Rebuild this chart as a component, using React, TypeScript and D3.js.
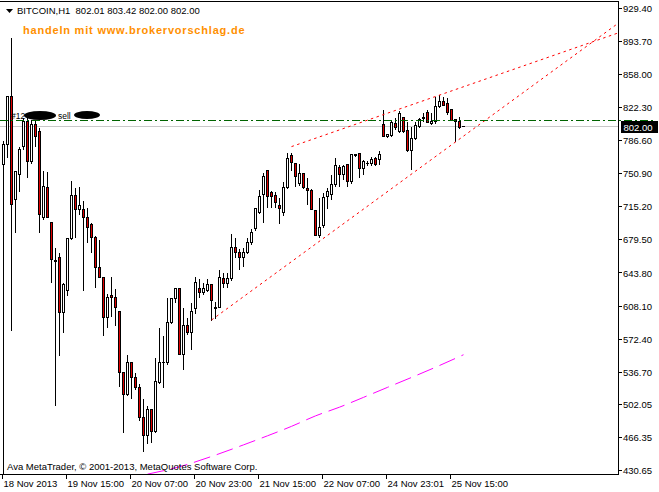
import React, { useEffect, useRef } from "react";
import * as d3 from "d3";

// Hourly BITCOIN candles (index 0 = 18 Nov 2013 23:00)
const opens = [
  760.4, 782.0, 833.8, 722.6, 749.6, 779.8, 806.8, 763.6, 803.6, 796.0,
  704.2, 735.6, 697.8, 657.5, 660.0, 600.6, 625.4, 680.5, 726.9, 711.8,
  711.8, 704.2, 695.6, 681.6, 650.2, 639.4, 596.2, 620.0, 617.8, 602.7,
  535.8, 513.1, 547.6, 531.4, 520.6, 488.2, 468.8, 496.9, 473.1, 526.0,
  546.6, 546.6, 590.8, 615.7, 626.5, 556.3, 587.6, 579.0, 605.9, 626.5,
  622.2, 625.4, 630.8, 606.5, 607.0, 637.3, 631.9, 637.3, 671.8, 666.4,
  661.0, 666.4, 676.2, 691.3, 709.6, 728.0, 753.9, 730.2, 726.9, 716.1,
  708.6, 735.6, 770.1, 761.5, 739.9, 750.7, 734.5, 732.3, 710.7, 683.7,
  694.5, 725.8, 728.0, 738.8, 757.2, 749.6, 760.4, 742.0, 771.2, 772.3,
  756.1, 761.5, 761.5, 766.9, 765.8, 803.6, 790.6, 791.7, 804.7, 796.0,
  811.2, 797.1, 775.5, 788.5, 801.4, 811.2, 816.6, 804.7, 806.8, 823.0,
  828.4, 826.3, 819.8, 809.0, 806.8, 802.01,
];
const highs = [
  786.3, 834.5, 897.6, 754.0, 779.8, 811.2, 811.2, 809.0, 809.0, 800.4,
  753.9, 752.8, 699.0, 670.8, 665.4, 633.0, 682.6, 743.1, 735.6, 736.6,
  721.5, 714.0, 697.8, 683.7, 679.4, 640.5, 621.1, 640.5, 626.5, 603.8,
  537.9, 556.3, 548.7, 536.8, 524.9, 508.8, 501.2, 498.0, 553.0, 584.4,
  576.8, 616.8, 616.8, 627.6, 627.6, 607.0, 595.2, 612.4, 640.5, 637.3,
  634.0, 637.3, 632.0, 613.5, 647.0, 644.8, 644.8, 685.9, 682.6, 669.7,
  671.8, 682.6, 691.3, 714.0, 733.4, 751.8, 755.0, 732.3, 731.2, 724.8,
  742.0, 773.4, 773.4, 762.6, 761.5, 751.8, 746.4, 734.5, 711.8, 724.8,
  730.2, 735.6, 749.6, 768.0, 760.4, 760.4, 761.5, 772.0, 772.3, 773.4,
  765.8, 764.7, 769.1, 769.1, 775.5, 819.8, 793.9, 807.9, 811.2, 818.7,
  812.0, 806.8, 801.4, 806.8, 811.2, 816.6, 819.8, 816.6, 833.8, 836.0,
  833.8, 832.8, 821.0, 810.1, 812.2, 803.42,
];
const lows = [
  400.0, 768.0, 582.2, 687.0, 731.2, 776.6, 746.4, 762.0, 779.8, 687.0,
  702.0, 703.2, 634.0, 501.2, 555.2, 580.0, 620.0, 679.4, 681.6, 706.4,
  625.4, 677.2, 665.4, 628.6, 639.4, 576.8, 585.4, 597.3, 587.6, 521.7,
  472.0, 512.0, 508.8, 518.5, 485.0, 451.5, 460.2, 461.2, 472.0, 525.0,
  520.6, 545.5, 589.7, 611.4, 556.3, 540.1, 577.9, 561.7, 599.5, 616.8,
  621.0, 624.0, 593.0, 594.1, 606.0, 628.6, 628.6, 636.0, 660.0, 647.0,
  651.3, 665.0, 675.0, 690.0, 708.0, 698.8, 714.0, 715.0, 715.0, 696.7,
  705.3, 734.5, 753.9, 736.6, 737.7, 734.5, 717.2, 711.8, 683.7, 681.6,
  692.4, 712.9, 722.6, 737.5, 736.6, 744.2, 736.6, 739.9, 769.1, 746.4,
  749.6, 759.3, 759.3, 759.3, 760.4, 790.6, 789.6, 790.6, 798.2, 795.0,
  794.9, 774.4, 755.0, 787.4, 800.5, 806.8, 805.7, 803.6, 805.5, 822.0,
  824.1, 814.4, 807.9, 785.2, 799.3, 802.0,
];
const closes = [
  782.0, 833.8, 717.2, 752.8, 776.6, 806.8, 763.6, 803.6, 790.6, 706.4,
  736.6, 703.2, 657.8, 656.5, 600.6, 630.8, 680.5, 726.9, 711.8, 716.1,
  704.2, 693.4, 682.6, 649.2, 639.4, 596.2, 616.8, 616.8, 607.0, 535.8,
  513.1, 546.6, 531.4, 520.6, 488.2, 468.8, 496.9, 473.1, 527.1, 546.6,
  547.6, 590.8, 615.7, 626.5, 556.3, 587.6, 579.0, 602.7, 633.0, 622.2,
  626.5, 630.8, 614.6, 605.9, 638.4, 631.9, 637.3, 671.8, 666.4, 661.0,
  666.4, 676.2, 688.0, 712.9, 725.8, 747.4, 725.8, 725.8, 719.4, 712.9,
  735.6, 766.9, 762.6, 747.4, 750.7, 735.6, 732.3, 711.8, 683.7, 693.4,
  724.8, 731.2, 738.8, 759.3, 749.6, 758.2, 742.0, 771.2, 770.1, 756.1,
  763.6, 761.8, 765.8, 760.4, 771.2, 790.6, 792.8, 805.7, 800.4, 815.5,
  796.0, 775.5, 788.5, 802.5, 809.0, 810.1, 805.7, 806.8, 823.0, 828.4,
  824.1, 816.6, 807.9, 806.8, 800.4, 802.0,
];

const priceTicks = [929.4, 893.7, 858.0, 822.3, 786.6, 750.9, 715.2, 679.5, 643.8, 608.1, 572.4, 536.7, 502.05, 466.35, 430.65];
const priceMin = 430.65;
const priceMax = 929.4;

const timeTickIdx = [0, 16, 32, 48, 64, 80, 96, 112];
const timeLabels = ["18 Nov 2013", "19 Nov 15:00", "20 Nov 07:00", "20 Nov 23:00", "21 Nov 15:00", "22 Nov 07:00", "24 Nov 23:01", "25 Nov 15:00"];

// moving average (magenta dashed)
const maIdx = [36, 44, 52, 60, 66, 72, 78, 84, 90, 96, 102, 108, 115];
const maVal = [426.6, 434.6, 445.7, 458.2, 468.0, 478.2, 489.5, 498.9, 509.5, 520.3, 531.0, 542.0, 555.5];

// trend lines (red dotted): two anchors each, extended to the right edge
const lowerTrendIdx = [52, 113];
const lowerTrendVal = [593.0, 785.2];
const upperTrendIdx = [72, 109];
const upperTrendVal = [780.2, 835.8];

const orderPrice = 807.9;
const lastPrice = 802.0;
const headerText = "BITCOIN,H1  802.01 803.42 802.00 802.00";
const promoText = "handeln mit www.brokervorschlag.de";
const copyText = "Ava MetaTrader, \u00A9 2001-2013, MetaQuotes Software Corp.";

export default function App() {
  const ref = useRef<SVGSVGElement>(null);

  useEffect(() => {
    document.body.style.margin = "0";
    const W = 659;
    const H = 492;
    const axisX = 618.5;
    const axisY = 474.5;
    const font = "'Liberation Sans', Arial, sans-serif";

    const svg = d3.select(ref.current);
    svg.selectAll("*").remove();
    svg.attr("width", W).attr("height", H);
    svg.append("rect").attr("width", W).attr("height", H).attr("fill", "#fff");

    const x = d3.scaleLinear().domain([0, 1]).range([3.5, 7.5]);
    const y = d3.scaleLinear().domain([priceMin, priceMax]).range([470.4, 8.4]);
    const snap = (v: number) => Math.round(v - 0.5) + 0.5;
    const maxIdx = x.invert(axisX);

    const defs = svg.append("defs");
    defs.append("clipPath").attr("id", "plotClip")
      .append("rect").attr("x", 0).attr("y", 2).attr("width", 618).attr("height", 472);

    const plot = svg.append("g").attr("clip-path", "url(#plotClip)");

    // price line (last price)
    plot.append("line")
      .attr("x1", 0).attr("x2", 621).attr("y1", snap(y(lastPrice))).attr("y2", snap(y(lastPrice)))
      .attr("stroke", "#c8c8c8").attr("shape-rendering", "crispEdges");

    // candles
    const candles = plot.append("g").attr("shape-rendering", "crispEdges");
    opens.forEach((o, i) => {
      const c = closes[i];
      const cx = x(i);
      candles.append("line")
        .attr("x1", cx).attr("x2", cx)
        .attr("y1", snap(y(highs[i]))).attr("y2", snap(y(lows[i])) + 0.5)
        .attr("stroke", "#000");
      const top = snap(y(Math.max(o, c)));
      const bot = snap(y(Math.min(o, c)));
      if (bot - top < 1) {
        candles.append("line")
          .attr("x1", cx - 1.5).attr("x2", cx + 1.5).attr("y1", top).attr("y2", top)
          .attr("stroke", "#000");
      } else {
        candles.append("rect")
          .attr("x", cx - 1).attr("width", 2)
          .attr("y", top).attr("height", bot - top)
          .attr("fill", c >= o ? "#ffffff" : "#e00000")
          .attr("stroke", "#000");
      }
    });

    // trend lines
    const trend = (idx: number[], val: number[]) => {
      const slope = (val[1] - val[0]) / (idx[1] - idx[0]);
      const endVal = val[0] + slope * (maxIdx - idx[0]);
      const pts: [number, number][] = [[idx[0], val[0]], [maxIdx, endVal]];
      plot.append("path")
        .attr("d", d3.line<[number, number]>().x(d => x(d[0])).y(d => y(d[1]))(pts) as string)
        .attr("fill", "none").attr("stroke", "#ff0000").attr("stroke-width", 1)
        .attr("stroke-dasharray", "2.5,3.5");
    };
    trend(lowerTrendIdx, lowerTrendVal);
    trend(upperTrendIdx, upperTrendVal);

    // moving average
    const maPts: [number, number][] = maIdx.map((d, i) => [d, maVal[i]]);
    plot.append("path")
      .attr("d", d3.line<[number, number]>().x(d => x(d[0])).y(d => y(d[1])).curve(d3.curveMonotoneX)(maPts) as string)
      .attr("fill", "none").attr("stroke", "#ff00ff").attr("stroke-width", 1)
      .attr("stroke-dasharray", "17,7");

    // order line (green dash-dot) extends over the axis
    svg.append("line")
      .attr("x1", 0).attr("x2", 656).attr("y1", snap(y(orderPrice))).attr("y2", snap(y(orderPrice)))
      .attr("stroke", "#006400").attr("stroke-dasharray", "8,3,2,3").attr("shape-rendering", "crispEdges");

    // order annotation with redaction blobs
    svg.append("text").attr("x", 11).attr("y", 119).attr("font-family", font).attr("font-size", 8.5)
      .attr("fill", "#000").text("#12");
    svg.append("ellipse").attr("cx", 40).attr("cy", 115.5).attr("rx", 16).attr("ry", 4.5).attr("fill", "#000");
    svg.append("text").attr("x", 58).attr("y", 119).attr("font-family", font).attr("font-size", 8.5)
      .attr("fill", "#000").text("sell");
    svg.append("ellipse").attr("cx", 87).attr("cy", 115).attr("rx", 13).attr("ry", 4).attr("fill", "#000");

    // frame and axes
    const frame = svg.append("g").attr("shape-rendering", "crispEdges").attr("stroke", "#000");
    frame.append("line").attr("x1", 0).attr("x2", axisX).attr("y1", 1.5).attr("y2", 1.5);
    frame.append("line").attr("x1", axisX).attr("x2", axisX).attr("y1", 1).attr("y2", axisY + 0.5);
    frame.append("line").attr("x1", 0).attr("x2", axisX).attr("y1", axisY).attr("y2", axisY);

    // price ticks and labels
    priceTicks.forEach(p => {
      const py = snap(y(p));
      frame.append("line").attr("x1", axisX).attr("x2", 622).attr("y1", py).attr("y2", py);
      svg.append("text").attr("x", 623).attr("y", y(p) + 3.6)
        .attr("font-family", font).attr("font-size", 9.5).attr("fill", "#000")
        .text(d3.format(".2f")(p));
    });

    // time ticks and labels
    timeTickIdx.forEach((t, i) => {
      const tx = x(t) - 1;
      frame.append("line").attr("x1", tx).attr("x2", tx).attr("y1", axisY).attr("y2", axisY + 4);
      svg.append("text").attr("x", tx + 1).attr("y", 487)
        .attr("font-family", font).attr("font-size", 9.5).attr("fill", "#000")
        .text(timeLabels[i]);
    });

    // last price box
    svg.append("rect").attr("x", 621).attr("y", 121).attr("width", 37).attr("height", 12).attr("fill", "#000");
    svg.append("text").attr("x", 623.5).attr("y", 130.5)
      .attr("font-family", font).attr("font-size", 9.5).attr("fill", "#fff")
      .text(d3.format(".2f")(lastPrice));

    // header
    svg.append("path").attr("d", "M6,9 L13,9 L9.5,13 Z").attr("fill", "#000");
    svg.append("text").attr("x", 17).attr("y", 14)
      .attr("font-family", font).attr("font-size", 9.5).attr("fill", "#000")
      .style("white-space", "pre").text(headerText);

    // promo text
    svg.append("text").attr("x", 23).attr("y", 34)
      .attr("font-family", font).attr("font-size", 11).attr("font-weight", "bold")
      .attr("letter-spacing", 0.8).attr("fill", "#ff9000").text(promoText);

    // copyright
    svg.append("text").attr("x", 7).attr("y", 469.5)
      .attr("font-family", font).attr("font-size", 9.5).attr("fill", "#000").text(copyText);
  }, []);

  return <svg ref={ref} width={659} height={492} style={{ display: "block", position: "absolute", left: 0, top: 0 }} />;
}
